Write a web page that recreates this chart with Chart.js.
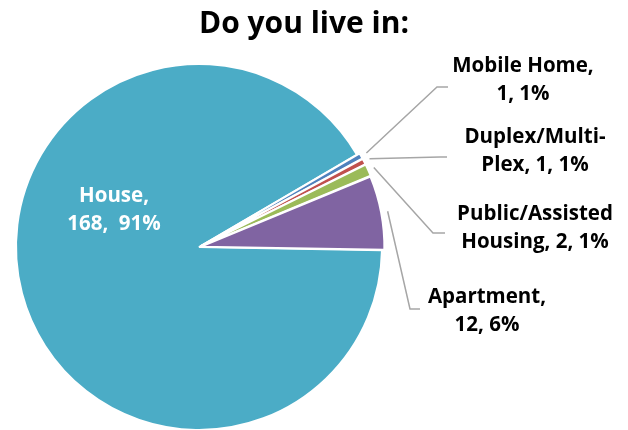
<!doctype html>
<html lang="en">
<head>
<meta charset="UTF-8" />
<title>Do you live in:</title>
<style>
  html, body { margin: 0; padding: 0; overflow: hidden; background: #fff; }
  canvas { display: block; }
</style>
</head>
<body>
<canvas id="canvas" width="628" height="440"></canvas>

<script src="https://cdn.jsdelivr.net/npm/chart.js"></script>
<script>
// survey answers
const categories = ['House', 'Mobile Home', 'Duplex/Multi-Plex', 'Public/Assisted Housing', 'Apartment']
const counts = [168, 1, 1, 2, 12]
const percents = [91, 1, 1, 1, 6]
const colors = ['#4BACC6', '#4F81BD', '#C0504D', '#9BBB59', '#8064A2']

const FONT = '"Open Sans", Lato, sans-serif'

// where each data label goes: text centre x, first baseline, where the text breaks,
// and the elbow of the leader line (none for the label inside the pie)
const labelLayout = [
  {x: 114, y: 202, cut: 6, gap: '  ', inside: true},
  {x: 523, y: 72,  cut: 12, elbow: [437, 87],  end: 448},
  {x: 535, y: 143, cut: 13, elbow: [440, 157], end: 447},
  {x: 535, y: 220, cut: 15, elbow: [433, 233], end: 445},
  {x: 487, y: 303, cut: 10, elbow: [410, 309], end: 420}
]

function labelLines(i){
  const L = labelLayout[i]
  const t = `${categories[i]}, ${counts[i]},${L.gap || ' '}${percents[i]}%`
  return [t.slice(0, L.cut).trim(), t.slice(L.cut).trim()]
}

const labelsPlugin = {
  id: 'sliceLabels',
  afterDraw(chart){
    const {ctx} = chart
    const arcs = chart.getDatasetMeta(0).data
    ctx.save()
    // title
    ctx.fillStyle = '#000'
    ctx.font = 'bold 30px ' + FONT
    ctx.textAlign = 'center'
    ctx.textBaseline = 'alphabetic'
    ctx.fillText('Do you live in:', 304, 33)

    arcs.forEach((arc, i) => {
      const L = labelLayout[i]
      if (!L.inside){
        const mid = (arc.startAngle + arc.endAngle) / 2
        const r = arc.outerRadius + (arc.options.offset || 0) + 3
        ctx.strokeStyle = '#A6A6A6'
        ctx.lineWidth = 1.5
        ctx.beginPath()
        ctx.moveTo(arc.x + Math.cos(mid) * r, arc.y + Math.sin(mid) * r)
        ctx.lineTo(L.elbow[0], L.elbow[1])
        ctx.lineTo(L.end, L.elbow[1])
        ctx.stroke()
      }
      ctx.fillStyle = L.inside ? '#FFFFFF' : '#000000'
      ctx.font = 'bold 20.5px ' + FONT
      labelLines(i).forEach((line, k) => ctx.fillText(line, L.x, L.y + k * 28))
    })
    ctx.restore()
  }
}

new Chart(document.getElementById('canvas'), {
  type: 'pie',
  data: {
    labels: categories,
    datasets: [{
      data: counts,
      backgroundColor: colors,
      borderColor: '#FFFFFF',
      borderWidth: 2,
      offset: counts.map((v, i) => i === 0 ? 0 : 6)
    }]
  },
  options: {
    responsive: false,
    animation: false,
    rotation: 91,
    layout: {padding: {left: 12, top: 60, right: 242, bottom: 6}},
    plugins: {
      legend: {display: false},
      tooltip: {enabled: false},
      title: {display: false}
    }
  },
  plugins: [labelsPlugin]
})
</script>
</body>
</html>
